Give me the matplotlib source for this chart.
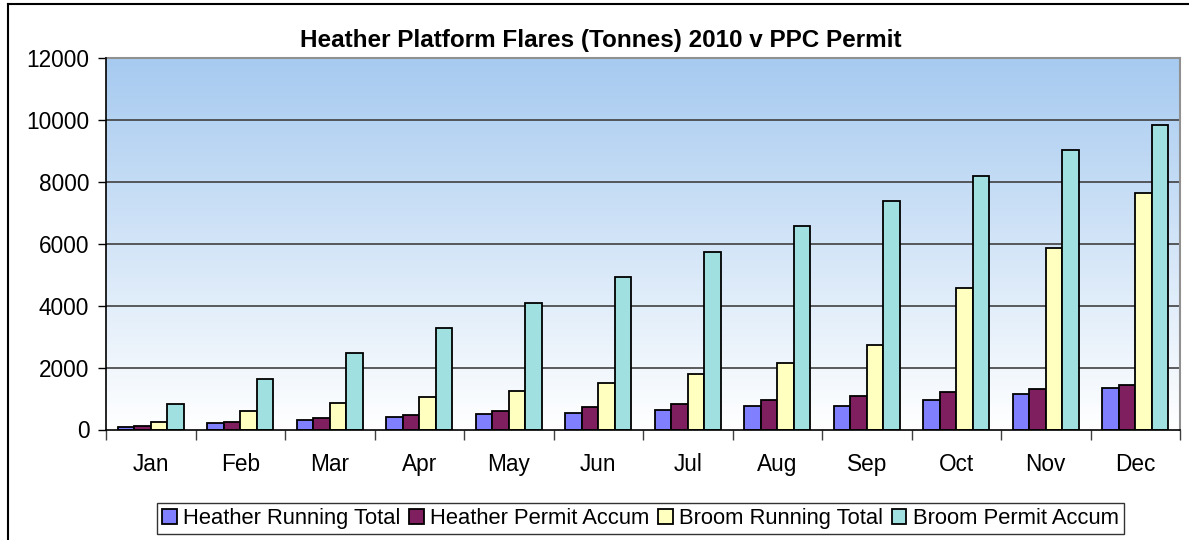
import numpy as np
import matplotlib
matplotlib.use("Agg")
import matplotlib.pyplot as plt
from matplotlib.lines import Line2D

months = ["Jan", "Feb", "Mar", "Apr", "May", "Jun", "Jul", "Aug", "Sep", "Oct", "Nov", "Dec"]
heather_running = [85, 194, 301, 398, 495, 537, 634, 744, 744, 938, 1142, 1336]
heather_permit = [120, 240, 360, 480, 600, 720, 840, 960, 1080, 1200, 1320, 1440]
broom_running = [246, 593, 841, 1045, 1239, 1488, 1790, 2136, 2728, 4573, 5877, 7657]
broom_permit = [821, 1642, 2462, 3283, 4104, 4924, 5745, 6566, 7386, 8207, 9028, 9848]
series_names = ["Heather Running Total", "Heather Permit Accum", "Broom Running Total", "Broom Permit Accum"]
series_colors = ["#8080FF", "#7F1F5F", "#FFFFC0", "#A0E0E0"]
title = "Heather Platform Flares (Tonnes) 2010 v PPC Permit"
yticks = [0, 2000, 4000, 6000, 8000, 10000, 12000]

plt.rcParams['font.family'] = ['Liberation Sans', 'DejaVu Sans']

W, H = 1189, 540
fig = plt.figure(figsize=(W / 100, H / 100), dpi=100)

# outer chart frame
fig.add_artist(Line2D([8 / W, 8 / W], [0, 1 - 4 / H], color="black", lw=1.5, transform=fig.transFigure))
fig.add_artist(Line2D([8 / W, 1], [1 - 4 / H, 1 - 4 / H], color="black", lw=1.5, transform=fig.transFigure))

left, right = 106 / W, 1180 / W
bottom, top = (H - 429.5) / H, (H - 58.3) / H
ax = fig.add_axes([left, bottom, right - left, top - bottom])

ymax = 12000
ax.set_xlim(0, len(months))
ax.set_ylim(0, ymax)

# gradient background
grad = np.linspace(0, 1, 256).reshape(-1, 1)
c_top = np.array([166, 202, 240]) / 255
c_bot = np.array([255, 255, 255]) / 255
img = c_bot[None, None, :] * (1 - grad[:, :, None]) + c_top[None, None, :] * grad[:, :, None]
ax.imshow(img, extent=[0, len(months), 0, ymax], origin="lower", aspect="auto", zorder=0)

for y in yticks[1:-1]:
    ax.axhline(y, color="#404040", lw=1.2, zorder=1)

x = np.arange(len(months))
bw = 0.185
data = [heather_running, heather_permit, broom_running, broom_permit]
for i, (vals, col, name) in enumerate(zip(data, series_colors, series_names)):
    ax.bar(x + 0.5 + (i - 1.5) * bw, vals, width=bw, color=col, edgecolor="black",
           linewidth=1.3, label=name, zorder=3)

ax.set_yticks(yticks)
ax.set_yticklabels([str(v) for v in yticks], fontsize=16.3)
ax.set_xticks(np.arange(len(months) + 1))
ax.set_xticklabels([])
ax.set_xticks(x + 0.5, minor=True)
ax.set_xticklabels(months, minor=True, fontsize=16.3)
ax.tick_params(axis="x", which="minor", length=0, pad=17)
ax.tick_params(axis="x", which="major", length=7, width=1, color="#404040", direction="out")
ax.tick_params(axis="y", length=6, width=1, direction="out", pad=6)

for s in ["left", "bottom"]:
    ax.spines[s].set_color("black")
    ax.spines[s].set_linewidth(1.2)
for s in ["top", "right"]:
    ax.spines[s].set_color("#909090")
    ax.spines[s].set_linewidth(1.5)
ax.spines["left"].set_zorder(4)
ax.spines["bottom"].set_zorder(4)

fig.text(601 / W, 1 - 40 / H, title, fontsize=17.5, fontweight="bold", ha="center", va="center")

leg = fig.legend(loc="center", bbox_to_anchor=(640.5 / W, 1 - 518.5 / H), ncol=4, fontsize=15.8,
                 frameon=True, fancybox=False, edgecolor="black", handlelength=0.65, handleheight=0.65,
                 handletextpad=0.3, columnspacing=0.4, borderpad=0.25, borderaxespad=0)
leg.get_frame().set_linewidth(1.0)

fig.savefig("out.png", dpi=100)
